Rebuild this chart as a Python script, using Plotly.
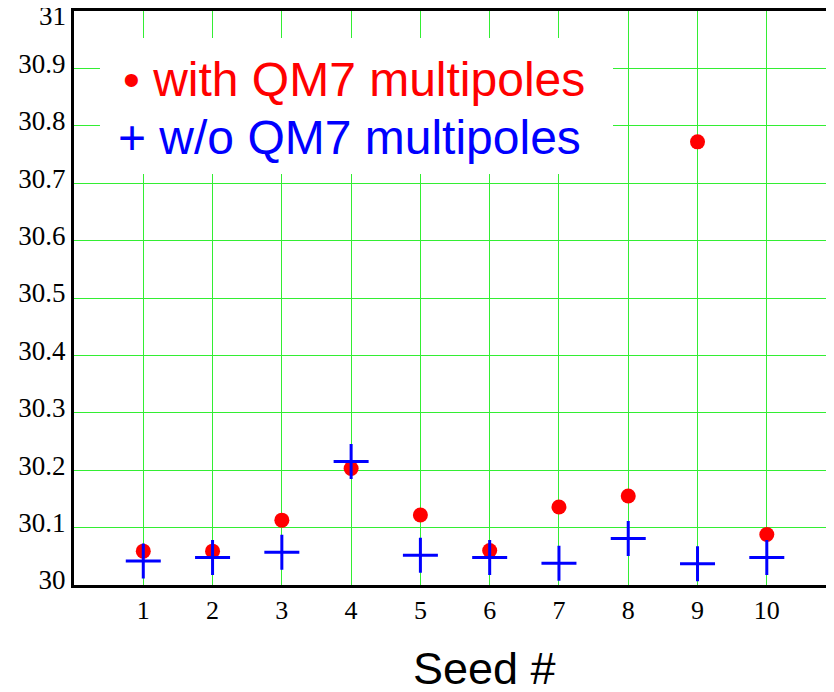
import plotly.graph_objects as go

seeds = [1, 2, 3, 4, 5, 6, 7, 8, 9, 10]
with_qm7 = [30.059, 30.059, 30.113, 30.203, 30.122, 30.060, 30.136, 30.155, 30.772, 30.088]
without_qm7 = [30.042, 30.048, 30.057, 30.215, 30.052, 30.048, 30.038, 30.081, 30.037, 30.048]
y_ticks = [30, 30.1, 30.2, 30.3, 30.4, 30.5, 30.6, 30.7, 30.8, 30.9]
y_tick_text = ["30", "30.1", "30.2", "30.3", "30.4", "30.5", "30.6", "30.7", "30.8", "30.9"]
y_top = 31

# page body has an 8px margin: work in screen pixels and subtract it
OFF = 8
L, T = 74 - OFF, 11 - OFF
W, H = 834 - OFF, 692 - OFF
PW, PH = 760, 574
B = H - T - PH

def px_x(sx):
    return (sx - OFF - L) / PW

def px_y(sy):
    return 1 - (sy - OFF - T) / PH

fig = go.Figure()
fig.add_trace(go.Scatter(
    x=seeds, y=with_qm7, mode="markers", name="with QM7 multipoles",
    marker=dict(symbol="circle", size=15, color="#ff0000"),
    showlegend=False,
))
fig.add_trace(go.Scatter(
    x=seeds, y=without_qm7, mode="markers", name="w/o QM7 multipoles",
    marker=dict(symbol="cross-thin", size=25, color="#0000ff",
                line=dict(color="#0000ff", width=3)),
    showlegend=False,
))

# white legend box covering the grid
fig.add_shape(type="rect", xref="x", yref="y", x0=0.375, x1=7.78, y0=30.716, y1=30.953,
              fillcolor="white", line=dict(width=0), layer="above")

fig.add_annotation(xref="paper", yref="paper", x=px_x(121), y=px_y(79),
                   xanchor="left", yanchor="middle", showarrow=False,
                   text="• with QM7 multipoles",
                   font=dict(family="Liberation Sans", size=48, color="#ff0000"))
fig.add_annotation(xref="paper", yref="paper", x=px_x(116), y=px_y(137),
                   xanchor="left", yanchor="middle", showarrow=False,
                   text="+ w/o QM7 multipoles",
                   font=dict(family="Liberation Sans", size=48, color="#0000ff"))

# x-axis title
fig.add_annotation(xref="paper", yref="paper", x=px_x(484), y=px_y(668),
                   xanchor="center", yanchor="middle", showarrow=False,
                   text="Seed #",
                   font=dict(family="Liberation Sans", size=45, color="black"))

# top y label (kept as annotation so it is not dropped at the edge)
fig.add_annotation(xref="paper", yref="y", x=0, y=y_top, xanchor="right", yanchor="middle",
                   xshift=-6, yshift=-5, showarrow=False, text=str(y_top),
                   font=dict(family="Liberation Serif", size=27, color="black"))

fig.update_layout(
    width=W, height=H,
    margin=dict(l=L, r=0, t=T, b=B, autoexpand=False),
    paper_bgcolor="white", plot_bgcolor="white",
    xaxis=dict(
        range=[0, 10.97], tickvals=seeds, ticktext=[str(s) for s in seeds],
        showgrid=True, gridcolor="#33ee33", gridwidth=1, automargin=False,
        zeroline=False, showline=True, linecolor="black", linewidth=3, mirror=True,
        ticks="", ticklabelstandoff=0,
        tickfont=dict(family="Liberation Serif", size=26, color="black"),
    ),
    yaxis=dict(
        range=[30, 31], tickvals=y_ticks, ticktext=y_tick_text,
        showgrid=True, gridcolor="#33ee33", gridwidth=1, automargin=False,
        zeroline=False, showline=True, linecolor="black", linewidth=3, mirror=False,
        ticks="", ticklabelstandoff=0, ticklabelshift=-5,
        tickfont=dict(family="Liberation Serif", size=27, color="black"),
    ),
)

fig.write_html("out.html")
